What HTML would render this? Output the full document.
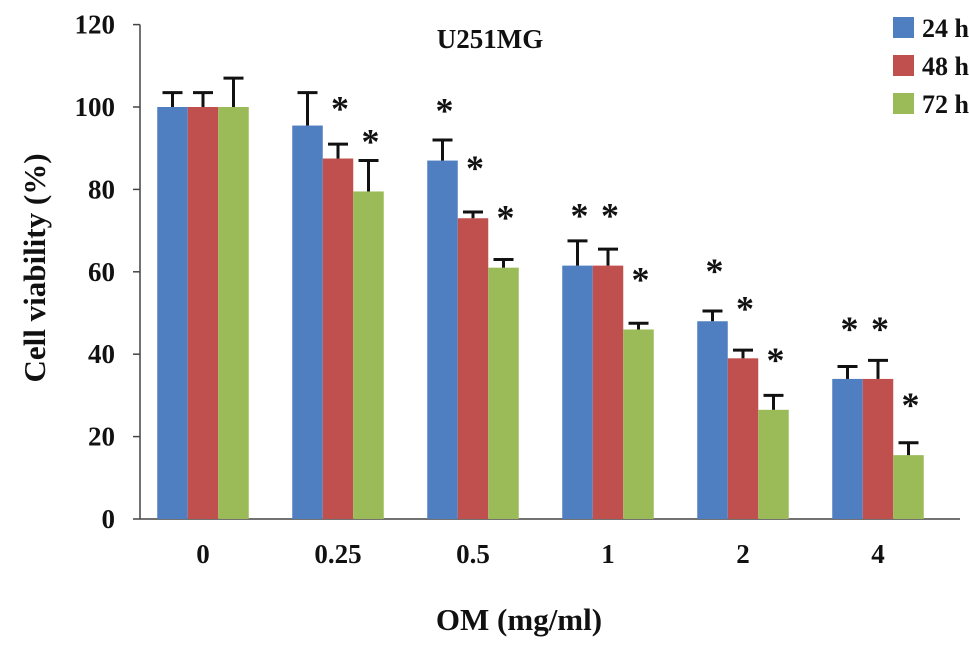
<!DOCTYPE html>
<html><head><meta charset="utf-8"><style>
body{margin:0;background:#fff}
text{font-family:"Liberation Serif",serif;font-weight:bold;fill:#111}
</style></head><body>
<svg id="c" width="969" height="650" viewBox="0 0 969 650"></svg>
<script>
const categories=["0","0.25","0.5","1","2","4"];
const seriesNames=["24 h","48 h","72 h"];
const v24=[100,95.5,87,61.5,48,34];
const v48=[100,87.5,73,61.5,39,34];
const v72=[100,79.5,61,46,26.5,15.5];
const e24=[3.5,8,5,6,2.5,3];
const e48=[3.5,3.5,1.5,4,2,4.5];
const e72=[7,7.5,2,1.5,3.5,3];
const sig24=[false,false,true,true,true,true];
const sig48=[false,true,true,true,true,true];
const sig72=[false,true,true,true,true,true];
const yTicks=[0,20,40,60,80,100,120];
const colors=["#4f7fc1","#c0504d","#9bbb59"];
const svg=document.getElementById('c');
const NS="http://www.w3.org/2000/svg";
const y0=519,pxu=4.12;
const y=v=>y0-v*pxu;
const xc=i=>203+i*135;
const bw=30.5;
function mk(t,a,p){const e=document.createElementNS(NS,t);for(const k in a)e.setAttribute(k,a[k]);(p||svg).appendChild(e);return e;}
let ax=mk('line',{x1:140,y1:y0,x2:960,y2:y0,stroke:'#444','stroke-width':1.5});


let ay=mk('line',{x1:140,y1:y(120),x2:140,y2:y0,stroke:'#444','stroke-width':1.5});


yTicks.forEach(t=>{
 mk('line',{x1:133,y1:y(t),x2:140,y2:y(t),stroke:'#444','stroke-width':1.5});
 const tx=mk('text',{x:115,y:y(t)+9,'text-anchor':'end','font-size':27});tx.textContent=t;
 
 
});
categories.forEach((c,i)=>{
 const tx=mk('text',{x:xc(i),y:563,'text-anchor':'middle','font-size':27});tx.textContent=c;
 
 
});
const vals=[v24,v48,v72],errs=[e24,e48,e72],sigs=[sig24,sig48,sig72];
vals.forEach((vs,s)=>{
 vs.forEach((v,i)=>{
  const x=xc(i)-1.5*bw+s*bw;
  const r=mk('rect',{x:x,y:y(v),width:bw,height:y0-y(v),fill:colors[s]});
  
  
  const cx=x+bw/2,top=y(v+errs[s][i]);
  mk('line',{x1:cx,y1:y(v),x2:cx,y2:top,stroke:'#111','stroke-width':3});
  mk('line',{x1:cx-10,y1:top,x2:cx+10,y2:top,stroke:'#111','stroke-width':3});
  if(sigs[s][i]){
   const a=mk('text',{x:cx+2,y:Math.min(y(v)-38,top-4),'text-anchor':'middle','font-size':36});a.textContent='*';
   
   
  }
 });
});
let t=mk('text',{x:490,y:48,'text-anchor':'middle','font-size':27});t.textContent='U251MG';


let xt=mk('text',{x:519,y:630,'text-anchor':'middle','font-size':31});xt.textContent='OM (mg/ml)';


let yt=mk('text',{x:0,y:0,'text-anchor':'middle','font-size':31,transform:'translate(45,268) rotate(-90)'});yt.textContent='Cell viability (%)';


seriesNames.forEach((n,s)=>{
 const g=mk('g',{});
 
 
 mk('rect',{x:893,y:17+s*38,width:21,height:21,fill:colors[s]},g);
 const tx=mk('text',{x:922,y:37+s*38,'font-size':26},g);tx.textContent=n;
});
</script>
</body></html>
